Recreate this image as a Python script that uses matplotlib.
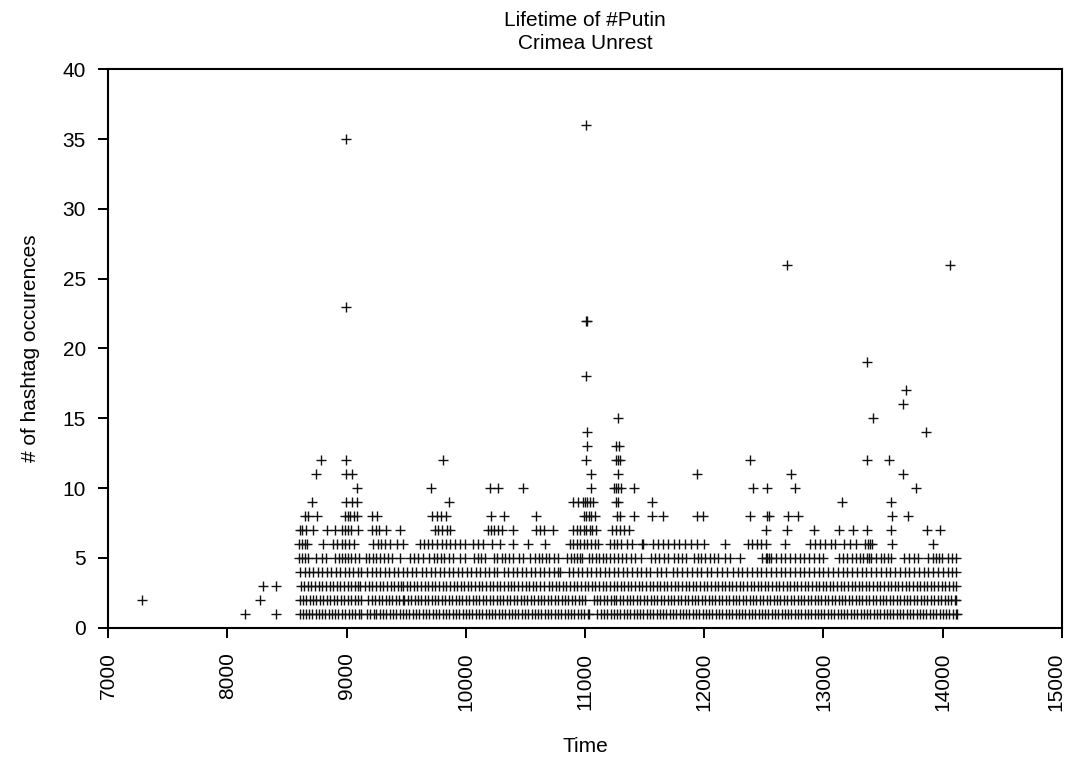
"""
plot.py - scatter of hashtag occurrences over time for #Putin (Crimea unrest).
"""

import matplotlib
matplotlib.use("Agg")
import matplotlib.pyplot as plt
import matplotlib.transforms as mtransforms

plt.rcParams["font.family"] = ["Liberation Sans", "DejaVu Sans"]

TITLE = "Lifetime of #Putin\nCrimea Unrest"
X_LABEL = "Time"
Y_LABEL = "# of hashtag occurences"
X_TICKS = [7000, 8000, 9000, 10000, 11000, 12000, 13000, 14000, 15000]
Y_TICKS = [0, 5, 10, 15, 20, 25, 30, 35, 40]

# x positions of the points, one list per count level

ROW1_X = [8149, 8409,
          8612, 8634, 8660, 8688, 8711, 8740, 8769, 8792, 8820, 8851, 8877, 8905, 8930, 8962, 8990,
          9018, 9047, 9072, 9101, 9124,
          9172, 9198, 9227, 9250, 9281, 9309, 9333, 9362, 9390, 9418, 9446, 9471, 9500, 9527, 9555,
          9584, 9610, 9641, 9668, 9694, 9722, 9750, 9779, 9805, 9836, 9862, 9890, 9917, 9945, 9973,
          10001, 10028, 10056, 10083, 10112, 10139, 10166, 10194, 10221, 10249, 10277, 10303, 10331,
          10360, 10386, 10414, 10441, 10470, 10497, 10525, 10552, 10580, 10608, 10634, 10663, 10690,
          10717, 10745, 10773, 10800, 10828, 10856, 10883, 10911, 10938, 10966, 10994, 11021, 11036,
          11104, 11131, 11158, 11186, 11214, 11241, 11269, 11296, 11324, 11351, 11379, 11407, 11434,
          11462, 11489, 11517, 11545, 11572, 11600, 11627, 11655, 11683, 11710, 11738, 11765, 11793,
          11821, 11848, 11876, 11903, 11931, 11959, 11986, 12014, 12041, 12069, 12097, 12124, 12152,
          12179, 12207, 12235, 12262, 12290, 12317, 12345, 12373, 12400, 12428, 12455, 12483, 12511,
          12538, 12566, 12593, 12621, 12649, 12676, 12704, 12731, 12759, 12787, 12814, 12842, 12869,
          12897, 12925, 12952, 12980, 13007, 13035, 13063, 13090, 13118, 13145, 13173, 13201, 13228,
          13256, 13283, 13311, 13339, 13366, 13394, 13421, 13449, 13477, 13504, 13532, 13559, 13587,
          13615, 13642, 13670, 13697, 13725, 13753, 13780, 13808, 13835, 13863, 13891, 13918, 13946,
          13973, 14001, 14029, 14056, 14084, 14111, 14122]

ROW2_X = [7282, 8275,
          8606, 8633, 8664, 8690, 8721, 8748, 8779, 8806, 8837, 8865, 8894, 8923, 8951, 8980, 9010,
          9038, 9067, 9095, 9121,
          9183, 9212, 9240, 9270, 9299, 9327, 9357, 9385, 9414, 9443, 9470, 9484,
          9512, 9541, 9570, 9598, 9628, 9656, 9685, 9714, 9742, 9771, 9800, 9828, 9857, 9886, 9914,
          9943, 9972, 10000, 10029, 10058, 10086, 10115, 10144, 10172, 10201, 10230, 10258, 10287,
          10316, 10344, 10373, 10402, 10430, 10459, 10488, 10516, 10545, 10574, 10602, 10631, 10660,
          10688, 10717, 10746, 10774, 10803, 10832, 10860, 10889, 10918, 10946, 10975, 11004,
          11072, 11100, 11129, 11158, 11186, 11215, 11244, 11262,
          11292, 11320, 11349, 11378, 11406, 11435, 11464, 11492, 11521, 11550, 11578, 11607, 11636,
          11664, 11693, 11722, 11750, 11779, 11808, 11836, 11865, 11894, 11922, 11951, 11980, 12008,
          12037, 12066, 12094, 12123, 12152, 12180, 12209, 12238, 12266, 12295, 12324, 12352, 12381,
          12410, 12438, 12467, 12496, 12524, 12553, 12582, 12610, 12639, 12668, 12696, 12725, 12754,
          12782, 12811, 12840, 12868, 12897, 12926, 12954, 12983, 13012, 13040, 13069, 13098, 13126,
          13155, 13184, 13212, 13241, 13270, 13298, 13327, 13356, 13384, 13413, 13442, 13470, 13499,
          13528, 13556, 13585, 13614, 13642, 13671, 13700, 13728, 13757, 13786, 13814, 13843, 13872,
          13900, 13929, 13958, 13986, 14015, 14044, 14072, 14101, 14115]

ROW3_X = [8303, 8409,
          8615, 8645, 8676, 8705, 8737, 8766, 8797, 8826, 8858, 8887, 8918, 8947, 8979, 9008, 9039,
          9068, 9099, 9112,
          9157, 9188, 9217, 9249, 9278, 9309, 9338, 9370, 9399, 9430, 9459, 9472,
          9503, 9534, 9563, 9595, 9624, 9655, 9684, 9716, 9745, 9776, 9805, 9837, 9866, 9897, 9926,
          9958, 9987, 10018, 10047, 10079, 10108, 10139, 10168, 10200, 10229, 10260, 10289, 10321,
          10350, 10381, 10408,
          10441, 10472, 10501, 10533, 10562, 10593, 10622, 10654,
          10694, 10723, 10755, 10784, 10815, 10844, 10876, 10905, 10936, 10965, 10997, 11026, 11057,
          11086, 11118, 11147, 11178, 11207, 11239, 11268, 11299, 11328, 11360, 11389, 11420, 11449,
          11481, 11510, 11541, 11570, 11602, 11631, 11662, 11691, 11723, 11752, 11783, 11812, 11844,
          11873, 11904, 11933, 11965, 11994, 12025, 12054, 12086, 12115, 12146, 12175, 12207, 12236,
          12267, 12296, 12328, 12357, 12388, 12417, 12449, 12478, 12509, 12538, 12570, 12599, 12630,
          12659, 12691, 12720, 12751, 12780, 12812, 12841, 12872, 12901, 12933, 12962, 12993, 13022,
          13054, 13083, 13114, 13143, 13175, 13204, 13235, 13264, 13296, 13325, 13356, 13385, 13417,
          13446, 13477, 13506, 13538, 13567, 13598, 13627, 13659, 13688, 13719, 13748, 13780, 13809,
          13840, 13869, 13901, 13930, 13961, 13990, 14022, 14051, 14082, 14108]

ROW4_X = [8612, 8648, 8685, 8721, 8760, 8798, 8833, 8871, 8910, 8946, 8983, 9020, 9058, 9094, 9121,
          9172, 9210, 9246, 9284, 9322, 9360, 9398, 9434, 9472, 9510, 9548, 9584,
          9632, 9670, 9707, 9745, 9783, 9820, 9858, 9896, 9934, 9972, 10008, 10046, 10084, 10122,
          10160, 10198, 10236, 10258,
          10318, 10356, 10394, 10432, 10470, 10508, 10546, 10584, 10622, 10660, 10698, 10736, 10774,
          10790,
          10862, 10900, 10938, 10976, 11014, 11052, 11090, 11128, 11166, 11204, 11242, 11280, 11318,
          11356, 11394, 11432, 11470, 11508, 11546, 11600, 11640, 11680, 11735, 11775, 11815, 11855,
          11895, 11935, 11975, 12020, 12060, 12110, 12150, 12190, 12240, 12280, 12320, 12360, 12400,
          12440, 12480, 12520, 12560, 12600, 12640, 12680, 12720, 12760, 12800, 12840, 12880, 12920,
          12960, 13000, 13040, 13080, 13120, 13160, 13200, 13240, 13280, 13320, 13360, 13400, 13440,
          13480, 13520, 13560, 13600, 13640, 13680, 13720, 13760, 13800, 13840, 13880, 13920, 13960,
          14000, 14040, 14080, 14112]

ROW5_X = [8604, 8630, 8655, 8680, 8740, 8790, 8828,
          8905, 8935, 8960, 8990, 9015, 9040, 9070, 9105,
          9160, 9190, 9220, 9250, 9280, 9310, 9345, 9380, 9445,
          9535, 9565, 9600, 9640, 9695,
          9730, 9760, 9790, 9820, 9860, 9895, 9950, 9990,
          10070, 10100, 10130, 10160, 10235, 10265, 10300, 10330, 10365, 10395,
          10445, 10480, 10535, 10580, 10610, 10640, 10670, 10700, 10740, 10775,
          10850, 10880, 10905, 10930, 10955, 10975,
          11030, 11060, 11090, 11120, 11150, 11180, 11210, 11245, 11280, 11310, 11345,
          11385, 11420, 11470, 11550, 11585, 11620, 11660, 11700, 11745, 11780, 11815, 11850,
          11910, 11945, 11975, 12005, 12050, 12085, 12115, 12175, 12215, 12300,
          12485, 12515, 12530, 12545, 12560, 12600, 12640, 12680, 12720, 12760, 12800, 12840,
          12880, 12920, 12960, 12995, 13130, 13165, 13200, 13235, 13270, 13305,
          13335, 13365, 13380, 13400, 13440, 13480, 13510, 13540, 13570,
          13675, 13715, 13755, 13795, 13880, 13920, 13945, 13965, 13990, 14040, 14080, 14115]

ROW6_X = [8605, 8630, 8650, 8670, 8806, 8890, 8920, 8960, 8990, 9020, 9060, 9225, 9260, 9290, 9320,
          9365, 9420, 9476, 9616, 9650, 9680, 9720, 9760, 9800, 9830, 9870, 9910, 9952, 9994,
          10064, 10106, 10148, 10218, 10287, 10399, 10525, 10665, 10874, 10900, 10930, 10960, 10990,
          11020, 11050, 11080, 11110, 11210, 11240, 11270, 11300, 11350, 11391, 11475, 11489, 11573,
          11610, 11650, 11700, 11745, 11790, 11840, 11890, 11940, 12000, 12174, 12370, 12400, 12440,
          12480, 12520, 12677, 12890, 12930, 12970, 13010, 13060, 13100, 13170, 13220, 13270, 13350,
          13370, 13390, 13410, 13572, 13921]

ROW7_X = [8610, 8630, 8660, 8720, 8834, 8903, 8960, 8990, 9010, 9040, 9100, 9215, 9250, 9275, 9330,
          9445, 9742, 9770, 9800, 9840, 9870, 10184, 10210, 10240, 10270, 10304, 10396, 10590,
          10620, 10660, 10730, 10902, 10930, 10960, 10990, 11010, 11040, 11060, 11090, 11230, 11260,
          11290, 11330, 11370, 12515, 12697, 12921, 13133, 13250, 13362, 13563, 13865, 13977]

ROW8_X = [8649, 8680, 8750, 8990, 9010, 9030, 9060, 9090, 9211, 9253, 9720, 9760, 9790, 9830, 10209,
          10318, 10589, 10990, 11010, 11030, 11050, 11080, 11265, 11290, 11411, 11564, 11657, 11937,
          11993, 12384, 12524, 12546, 12705, 12789, 13572, 13711]

ROW9_X = [8711, 8993, 9043, 9088, 9862, 10902, 10940, 10980, 11000, 11020, 11040, 11065, 11257,
          11280, 11564, 13153, 13563]

ROW10_X = [9088, 9708, 10203, 10273, 10483, 11048, 11240, 11260, 11280, 11300, 11411, 12406,
           12524, 12761, 13773]

ROW11_X = [8747, 8993, 9049, 11048, 11280, 11937, 12725, 13670]

ROW12_X = [8783, 8993, 9812, 11007, 11257, 11274, 11291, 12384, 13367, 13552]

# the few higher counts
PEAK_X = [11017, 11257, 11285, 11017, 13860, 11277, 13418, 13667, 13694, 11011, 13367, 11011,
          11020, 8993, 12691, 14061, 8993, 11011]
PEAK_Y = [13, 13, 13, 14, 14, 15, 15, 16, 17, 18, 19, 22, 22, 23, 26, 26, 35, 36]


def main():
    rows = [ROW1_X, ROW2_X, ROW3_X, ROW4_X, ROW5_X, ROW6_X,
            ROW7_X, ROW8_X, ROW9_X, ROW10_X, ROW11_X, ROW12_X]
    xs, ys = [], []
    for level, row in enumerate(rows, start=1):
        xs.extend(row)
        ys.extend([level] * len(row))
    xs.extend(PEAK_X)
    ys.extend(PEAK_Y)

    fig = plt.figure(figsize=(10.7, 7.6), dpi=100)
    ax = fig.add_axes([0.101, 0.1743, 0.8915, 0.7343])

    ax.plot(xs, ys, linestyle="none", marker="+", markersize=7.5,
            markeredgewidth=1.0, color="#111111")

    ax.set_xlim(7000, 15000)
    ax.set_ylim(0, 40)
    ax.set_xticks(X_TICKS)
    ax.set_yticks(Y_TICKS)
    ax.set_xticklabels([str(t) for t in X_TICKS], rotation=90, fontsize=15)
    ax.set_yticklabels([str(t) for t in Y_TICKS], fontsize=15)
    ax.tick_params(axis="x", direction="out", length=7, width=1.4, pad=11)
    ax.tick_params(axis="y", direction="out", length=7, width=1.4, pad=9)
    for s in ax.spines.values():
        s.set_linewidth(1.5)

    # last x label sits right at the figure edge; nudge it inward a little
    last = ax.get_xticklabels()[-1]
    last.set_transform(last.get_transform() +
                       mtransforms.ScaledTranslation(-6 / 100, 0, fig.dpi_scale_trans))

    fig.text(0.5467, 1 - 32 / 760, TITLE, ha="center", va="center", fontsize=15, linespacing=1.25)
    fig.text(0.5467, 1 - 747 / 760, X_LABEL, ha="center", va="center", fontsize=15)
    fig.text(31 / 1070, 1 - 348 / 760, Y_LABEL, ha="center", va="center",
             rotation=90, fontsize=15)

    fig.savefig("out.png", dpi=100)
    plt.close(fig)


if __name__ == "__main__":
    main()
